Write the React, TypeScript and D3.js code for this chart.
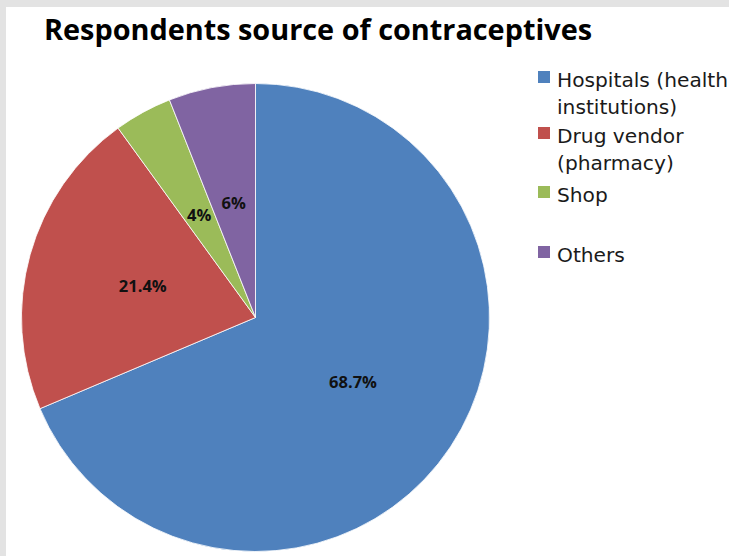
import React from "react";
import * as d3 from "d3";

const categories = ["Hospitals (health institutions)", "Drug vendor (pharmacy)", "Shop", "Others"];
const values = [68.7, 21.4, 4, 6];
const valueLabels = ["68.7%", "21.4%", "4%", "6%"];
const legendLines = [["Hospitals (health", "institutions)"], ["Drug vendor", "(pharmacy)"], ["Shop"], ["Others"]];
const legendBaselines = [87, 143, 202, 262];
const colors = ["#4F81BD", "#C0504D", "#9BBB59", "#8064A2"];

const W = 729;
const H = 556;

export default function App() {
  const cx = 255.5;
  const cy = 317.5;
  const r = 234;
  const pie = d3.pie<number>().sort(null).value((d) => d);
  const arcs = pie(values);
  const arc = d3.arc<d3.PieArcDatum<number>>().innerRadius(0).outerRadius(r);

  return (
    <div style={{ position: "absolute", left: 0, top: 0 }}>
      <svg width={W} height={H} style={{ display: "block" }}>
        <rect x={0} y={0} width={W} height={H} fill="#e3e3e3" />
        <rect x={6} y={7} width={W - 6} height={H - 7} fill="#ffffff" />
        <text
          x={44}
          y={40}
          fontFamily="'Open Sans', sans-serif"
          fontWeight="bold"
          fontSize={28}
          fill="#000"
          textLength={548}
          lengthAdjust="spacingAndGlyphs"
        >
          Respondents source of contraceptives
        </text>
        <g transform={`translate(${cx},${cy})`}>
          {arcs.map((a, i) => (
            <path key={categories[i]} d={arc(a) || ""} fill={colors[i]} stroke="#ffffff" strokeWidth={0.8} />
          ))}
          {arcs.map((a, i) => {
            const [x, y] = arc.centroid(a);
            return (
              <text
                key={"l" + i}
                x={x}
                y={y}
                dy="0.36em"
                textAnchor="middle"
                fontFamily="'Open Sans', sans-serif"
                fontWeight="bold"
                fontSize={16.5}
                fill="#111"
              >
                {valueLabels[i]}
              </text>
            );
          })}
        </g>
        <g>
          {legendLines.map((lines, i) => (
            <g key={"lg" + i}>
              <rect x={538} y={legendBaselines[i] - 16} width={12} height={12} fill={colors[i]} />
              {lines.map((ln, j) => (
                <text
                  key={j}
                  x={557}
                  y={legendBaselines[i] + j * 26.5}
                  fontFamily="'DejaVu Sans', sans-serif"
                  fontSize={20.2}
                  fill="#1a1a1a"
                >
                  {ln}
                </text>
              ))}
            </g>
          ))}
        </g>
      </svg>
    </div>
  );
}
